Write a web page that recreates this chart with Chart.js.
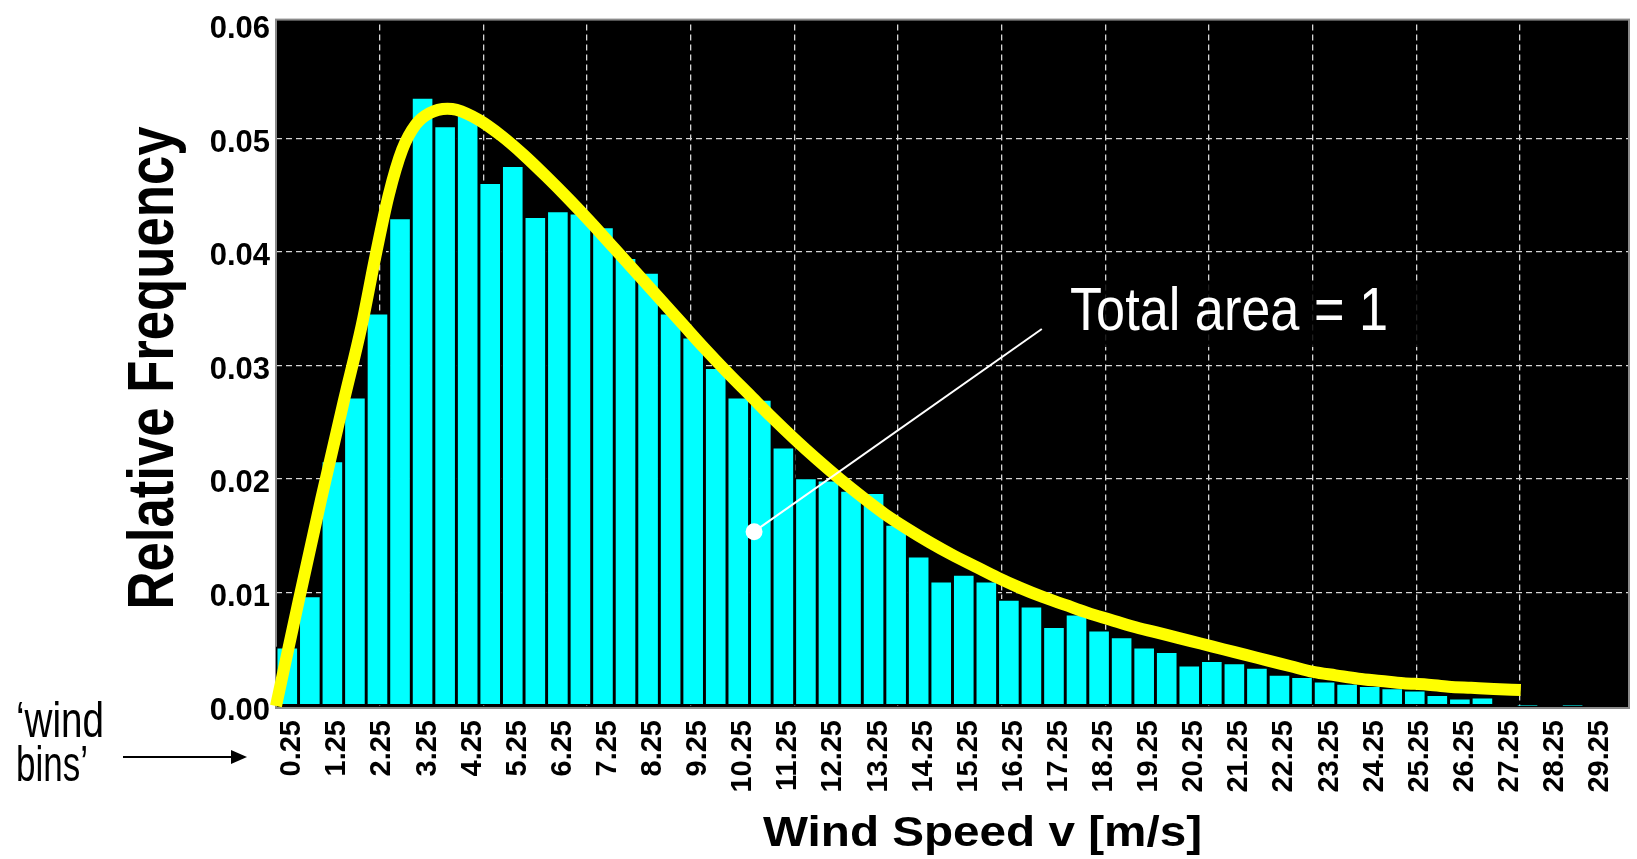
<!DOCTYPE html>
<html>
<head>
<meta charset="utf-8">
<script src="https://cdn.jsdelivr.net/npm/chart.js@4/dist/chart.umd.min.js"></script>
<style>
  html, body { margin: 0; padding: 0; background: #ffffff; }
  #wrap { width: 1637px; height: 859px; }
</style>
</head>
<body>
<div id="wrap"><canvas id="c" width="1637" height="859"></canvas></div>
<script>
// ---- data: wind bins (0.5 m/s wide, labelled by bin centre) ----
const binLabels = ['0.25','0.75','1.25','1.75','2.25','2.75','3.25','3.75','4.25','4.75',
  '5.25','5.75','6.25','6.75','7.25','7.75','8.25','8.75','9.25','9.75',
  '10.25','10.75','11.25','11.75','12.25','12.75','13.25','13.75','14.25','14.75',
  '15.25','15.75','16.25','16.75','17.25','17.75','18.25','18.75','19.25','19.75',
  '20.25','20.75','21.25','21.75','22.25','22.75','23.25','23.75','24.25','24.75',
  '25.25','25.75','26.25','26.75','27.25','27.75','28.25','28.75','29.25','29.75'];

// relative frequency of each wind bin
const relFreq = [0.0052,0.0097,0.0216,0.0272,0.0346,0.0430,0.0536,0.0511,0.0521,0.0461,
  0.0476,0.0431,0.0436,0.0434,0.0422,0.0395,0.0382,0.0346,0.0325,0.0298,
  0.0272,0.0270,0.0228,0.0201,0.0199,0.0190,0.0188,0.0160,0.0132,0.0110,
  0.0116,0.0110,0.0094,0.0088,0.0070,0.0081,0.0067,0.0061,0.0052,0.0048,
  0.0036,0.0040,0.0038,0.0034,0.0028,0.0026,0.0022,0.0020,0.0018,0.0016,
  0.0014,0.0010,0.0007,0.0008,0,0.00006,0,0.00006,0,0];

// fitted distribution curve (wind speed, density)
const curveV = [0,0.5,1.0,1.5,1.9,2.2,2.5,2.8,3.1,3.4,3.8,4.0,4.5,5.0,5.5,6.0,6.5,7.0,7.5,8.0,
  8.5,9.0,9.5,10.0,10.5,11.0,11.5,12.0,12.5,13.0,13.5,14.0,14.5,15.0,15.5,16.0,16.5,17.0,
  17.5,18.0,18.5,19.0,19.5,20.0,20.5,21.0,21.5,22.0,22.5,23.0,23.5,24.0,24.5,25.0,25.5,
  26.0,26.5,27.0,27.6];
const curveF = [0,0.0092,0.0182,0.0268,0.0335,0.0395,0.0450,0.0490,0.0512,0.0522,0.0526,0.0525,0.0516,0.0502,0.0485,0.0466,0.0446,0.0425,0.0403,0.0381,
  0.0359,0.0337,0.0315,0.0294,0.0274,0.0254,0.0235,0.0217,0.0200,0.0184,0.0169,0.0156,0.0144,0.0133,0.0123,0.0113,0.0104,0.0096,
  0.0089,0.0082,0.0076,0.0070,0.0065,0.0060,0.0055,0.0050,0.0045,0.0040,0.0035,0.0030,0.0027,0.0024,0.0022,0.0020,0.0019,
  0.0017,0.0016,0.0015,0.0014];

const yTicks = [0, 0.01, 0.02, 0.03, 0.04, 0.05, 0.06];

const BASEFAM = '"Liberation Sans", Arial, sans-serif';

function fitText(ctx, text, x, y, font, width, align) {
  ctx.save();
  ctx.font = font;
  const w = ctx.measureText(text).width;
  ctx.translate(x, y);
  ctx.scale(width / w, 1);
  ctx.textAlign = align;
  ctx.textBaseline = 'alphabetic';
  ctx.fillText(text, 0, 0);
  ctx.restore();
}

const plotBg = {
  id: 'plotBg',
  beforeDraw(chart) {
    const { ctx, chartArea: a } = chart;
    ctx.save();
    ctx.fillStyle = '#ffffff';
    ctx.fillRect(0, 0, chart.width, chart.height);
    ctx.fillStyle = '#000000';
    ctx.fillRect(a.left, a.top - 5, a.right - a.left, a.bottom - a.top + 7);
    ctx.restore();
  },
  beforeDatasetsDraw(chart) {
    const { ctx, chartArea: a } = chart;
    ctx.save();
    ctx.strokeStyle = '#8a8a8a';
    ctx.lineWidth = 2;
    ctx.strokeRect(a.left, a.top - 5, a.right - a.left, a.bottom - a.top + 7);
    ctx.restore();
  }
};

const annot = {
  id: 'annot',
  afterDraw(chart) {
    const { ctx } = chart;
    const xs = chart.scales.xc, ys = chart.scales.y;
    ctx.save();
    // leader line + dot
    const dx = xs.getPixelForValue(10.6), dy = ys.getPixelForValue(0.01535);
    const ex = xs.getPixelForValue(16.98), ey = ys.getPixelForValue(0.0332);
    ctx.strokeStyle = '#ffffff';
    ctx.lineWidth = 2;
    ctx.beginPath(); ctx.moveTo(dx, dy); ctx.lineTo(ex, ey); ctx.stroke();
    ctx.fillStyle = '#ffffff';
    ctx.beginPath(); ctx.arc(dx, dy, 8.5, 0, Math.PI * 2); ctx.fill();
    // label box
    ctx.fillStyle = 'rgba(0,0,0,0.85)';
    ctx.fillRect(1062, 283, 362, 64);
    ctx.fillStyle = '#ffffff';
    fitText(ctx, 'Total area = 1', 1070, 330, '62px ' + BASEFAM, 318, 'left');

    // axis titles
    ctx.fillStyle = '#000000';
    ctx.save();
    ctx.translate(173, 368);
    ctx.rotate(-Math.PI / 2);
    fitText(ctx, 'Relative Frequency', 0, 0, 'bold 64px ' + BASEFAM, 483, 'center');
    ctx.restore();
    fitText(ctx, 'Wind Speed v [m/s]', 982.5, 846, 'bold 43px ' + BASEFAM, 439, 'center');

    // 'wind bins' note + arrow
    fitText(ctx, '\u2018wind', 16, 737, '50px ' + BASEFAM, 88, 'left');
    fitText(ctx, 'bins\u2019', 16, 781, '50px ' + BASEFAM, 72, 'left');
    ctx.strokeStyle = '#000000';
    ctx.lineWidth = 2;
    ctx.beginPath(); ctx.moveTo(123, 757); ctx.lineTo(233, 757); ctx.stroke();
    ctx.beginPath(); ctx.moveTo(247, 757); ctx.lineTo(231, 750); ctx.lineTo(231, 764); ctx.closePath(); ctx.fill();
    ctx.restore();
  }
};

const GRID = '#d6d6d6';

new Chart(document.getElementById('c'), {
  data: {
    labels: binLabels,
    datasets: [
      {
        type: 'line',
        label: 'Fitted distribution',
        data: curveV.map((v, i) => ({ x: v, y: curveF[i] })),
        xAxisID: 'xc', yAxisID: 'y',
        borderColor: '#ffff00', borderWidth: 12,
        pointRadius: 0, cubicInterpolationMode: 'monotone',
        borderCapStyle: 'butt', borderJoinStyle: 'round',
        clip: false, order: 0
      },
      {
        type: 'bar',
        label: 'Relative frequency',
        data: relFreq,
        xAxisID: 'x', yAxisID: 'y',
        backgroundColor: '#00ffff', borderColor: '#000000',
        borderWidth: 1.8, borderSkipped: false, grouped: false,
        barPercentage: 1, categoryPercentage: 1, order: 1
      }
    ]
  },
  options: {
    responsive: false, animation: false,
    layout: { padding: { top: 20, right: 8, left: 0, bottom: 0 } },
    plugins: { legend: { display: false }, tooltip: { enabled: false } },
    scales: {
      x: {
        type: 'category', position: 'bottom', offset: true,
        grid: { display: false, drawTicks: false },
        border: { display: false },
        ticks: {
          autoSkip: false, minRotation: 90, maxRotation: 90,
          padding: 14, labelOffset: 5, color: '#000000',
          font: { family: BASEFAM, size: 29, weight: 'bold' },
          callback: function (v, i) { return i % 2 === 0 ? binLabels[i] : ''; }
        },
        afterFit(s) { s.height = 153; s.paddingLeft = 0; s.paddingRight = 0; }
      },
      xc: { type: 'linear', position: 'bottom', min: 0, max: 30, offset: false, display: false },
      xg: {
        type: 'linear', position: 'bottom', min: 0, max: 13.05, offset: false,
        ticks: { display: false, stepSize: 1 },
        grid: {
          offset: false, drawTicks: false, lineWidth: 1.3,
          color: (c) => (c.tick && Number.isInteger(c.tick.value) && c.tick.value > 0 && c.tick.value < 13) ? GRID : 'rgba(0,0,0,0)'
        },
        border: { display: false, dash: [6, 4] },
        afterFit(s) { s.height = 0; s.paddingLeft = 0; s.paddingRight = 0; }
      },
      y: {
        min: 0, max: 0.06,
        afterBuildTicks(s) { s.ticks = yTicks.map(v => ({ value: v })); },
        ticks: {
          padding: 6, labelOffset: 5, color: '#000000',
          font: { family: BASEFAM, size: 31, weight: 'bold' },
          callback: (v) => Number(v).toFixed(2)
        },
        grid: {
          drawTicks: false, lineWidth: 1.3,
          color: (c) => (c.tick && c.tick.value > 0.001 && c.tick.value < 0.059) ? GRID : 'rgba(0,0,0,0)'
        },
        border: { display: false, dash: [6, 4] },
        afterFit(s) { s.width = 276; }
      }
    }
  },
  plugins: [plotBg, annot]
});
</script>
</body>
</html>
